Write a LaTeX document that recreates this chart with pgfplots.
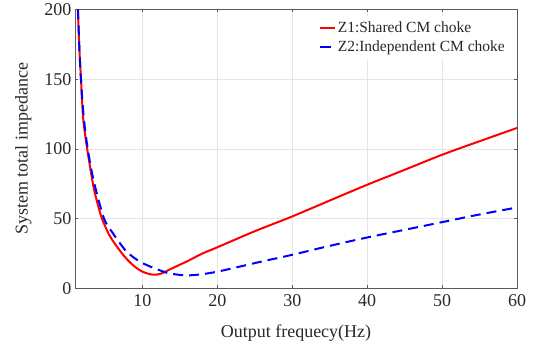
\documentclass[border=0pt]{standalone}
\usepackage{pgfplots}
\pgfplotsset{compat=1.18}
\usepackage{fontspec}
\setmainfont{Liberation Serif}
\definecolor{axgray}{RGB}{90,90,90}
\definecolor{txtgray}{RGB}{40,40,40}
\begin{document}
\begin{tikzpicture}
\begin{axis}[
  scale only axis,
  width=442pt, height=279pt,
  xmin=1, xmax=60, ymin=0, ymax=200,
  xtick={10,20,30,40,50,60},
  ytick={0,50,100,150,200},
  tick align=inside,
  tick pos=both,
  major tick length=3pt,
  axis line style={axgray, line width=0.8pt},
  tick style={axgray, line width=0.6pt},
  grid=major,
  grid style={gray!20, line width=0.5pt},
  /pgf/number format/assume math mode=true,
  ticklabel style={font=\fontsize{18}{20}\selectfont, text=txtgray},
  xticklabel style={yshift=-3pt},
  xlabel={Output frequecy(Hz)},
  ylabel={System total impedance},
  label style={font=\fontsize{18}{20}\selectfont, text=txtgray},
  xlabel style={yshift=-11pt},
  ylabel style={yshift=6pt},
  legend style={at={(1,1)}, anchor=north east, xshift=-8pt, yshift=-6pt,
    draw=none, fill=white,
    font=\fontsize{15.5}{17}\selectfont, text=txtgray,
    inner xsep=2pt, inner ysep=4pt, row sep=3pt},
  legend cell align=left,
  legend image post style={xscale=0.85},
]
\addplot[red, line width=2pt, smooth] coordinates {
(1.38,200) (1.6,170) (1.8,150) (2.09,122) (2.63,100) (3.43,74) (4,61) (4.6,50)
(5.5,39) (6,34.5) (7.07,26.5) (8,20.5) (9,15.5) (10,12) (11,10.2) (11.6,9.8)
(12.2,10.2) (12.8,11.3) (14,14.5) (16,19.5) (18,25) (20,29.5) (25,41) (30,51.6)
(35,63) (40,74.3) (45,85) (50,95.8) (55,105.5) (60,115)
};
\addlegendentry{Z1:Shared CM choke}
\addplot[blue, line width=2pt, dash pattern=on 10pt off 6pt, smooth] coordinates {
(1.4,200) (1.6,170) (1.85,145) (2.2,121) (2.7,100) (3.5,77) (4.85,50.5) (6,40)
(7.7,27.5) (9,21.5) (10,18.2) (11.07,15.6) (12,13.6) (13.3,11.2) (14.5,10)
(16,9.3) (18,10.2) (20,12) (22.5,15) (25.7,19) (30,24.1) (35,30.5) (40,36.5)
(45,42) (50,47.5) (55,53) (60,58)
};
\addlegendentry{Z2:Independent CM choke}
\end{axis}
\path (current axis.south west) ++(-75pt,-60pt) coordinate (bl);
\path (current axis.north east) ++(24pt,8pt) coordinate (tr);
\useasboundingbox (bl) rectangle (tr);
\end{tikzpicture}
\end{document}
